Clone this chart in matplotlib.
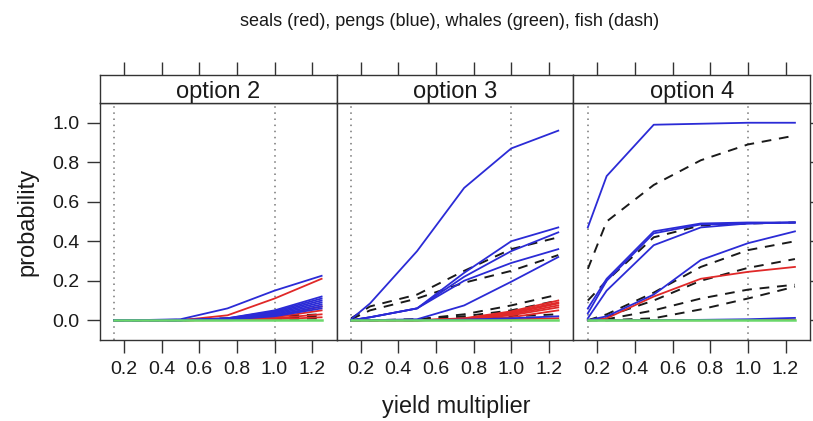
import matplotlib
matplotlib.use("Agg")
import matplotlib.pyplot as plt

plt.rcParams.update({
    "font.family": ["Liberation Sans", "DejaVu Sans"],
})

# ---- data ----
x = [0.15, 0.25, 0.5, 0.75, 1.0, 1.25]
panels = ["option 2", "option 3", "option 4"]
ref_lines = [0.15, 1.0]

opt2_fish = [
    [0, 0, 0.002, 0.01, 0.02, 0.03],
    [0, 0, 0, 0.005, 0.01, 0.02],
    [0, 0, 0, 0.002, 0.005, 0.01],
]
opt2_seals = [
    [0, 0, 0, 0.025, 0.11, 0.21],
    [0, 0, 0, 0.003, 0.02, 0.07],
    [0, 0, 0, 0.002, 0.015, 0.05],
    [0, 0, 0, 0.001, 0.01, 0.03],
    [0, 0, 0, 0, 0.005, 0.015],
]
opt2_pengs = [
    [0, 0, 0.005, 0.06, 0.15, 0.225],
    [0, 0, 0, 0.01, 0.05, 0.12],
    [0, 0, 0, 0.01, 0.045, 0.11],
    [0, 0, 0, 0.008, 0.04, 0.10],
    [0, 0, 0, 0.006, 0.035, 0.09],
    [0, 0, 0, 0.005, 0.03, 0.08],
    [0, 0, 0, 0.004, 0.025, 0.07],
    [0, 0, 0, 0.003, 0.02, 0.06],
]
opt2_whales = [[0, 0, 0, 0, 0, 0]]

opt3_fish = [
    [0.01, 0.07, 0.13, 0.25, 0.36, 0.42],
    [0.005, 0.05, 0.11, 0.19, 0.25, 0.33],
    [0, 0, 0.005, 0.03, 0.075, 0.13],
    [0, 0, 0.003, 0.02, 0.05, 0.10],
    [0, 0, 0, 0.01, 0.02, 0.03],
]
opt3_seals = [
    [0, 0, 0, 0.01, 0.045, 0.10],
    [0, 0, 0, 0.008, 0.04, 0.09],
    [0, 0, 0, 0.006, 0.035, 0.085],
    [0, 0, 0, 0.005, 0.03, 0.075],
    [0, 0, 0, 0.004, 0.025, 0.065],
    [0, 0, 0, 0.002, 0.015, 0.05],
    [0, 0, 0, 0, 0.005, 0.01],
]
opt3_pengs = [
    [0.005, 0.085, 0.35, 0.67, 0.87, 0.96],
    [0, 0.015, 0.06, 0.24, 0.40, 0.47],
    [0, 0.015, 0.06, 0.22, 0.35, 0.445],
    [0, 0.015, 0.06, 0.20, 0.29, 0.36],
    [0, 0, 0.005, 0.075, 0.195, 0.32],
    [0, 0, 0, 0.003, 0.01, 0.02],
]
opt3_whales = [[0, 0, 0, 0, 0, 0]]

opt4_fish = [
    [0.26, 0.50, 0.685, 0.81, 0.89, 0.935],
    [0.10, 0.20, 0.42, 0.48, 0.49, 0.495],
    [0, 0.03, 0.14, 0.27, 0.355, 0.40],
    [0, 0.02, 0.10, 0.20, 0.265, 0.31],
    [0, 0.005, 0.05, 0.11, 0.155, 0.18],
    [0, 0, 0.01, 0.055, 0.11, 0.17],
]
opt4_seals = [
    [0, 0.01, 0.12, 0.21, 0.245, 0.27],
    [0, 0, 0, 0, 0.001, 0.003],
]
opt4_pengs = [
    [0.47, 0.73, 0.99, 0.995, 1.0, 1.0],
    [0.06, 0.21, 0.45, 0.49, 0.495, 0.495],
    [0.035, 0.20, 0.44, 0.485, 0.49, 0.495],
    [0.01, 0.15, 0.38, 0.47, 0.49, 0.495],
    [0, 0.02, 0.13, 0.305, 0.39, 0.45],
    [0, 0, 0, 0.002, 0.005, 0.012],
]
opt4_whales = [[0, 0, 0, 0, 0, 0]]

fish_by_panel = [opt2_fish, opt3_fish, opt4_fish]
seals_by_panel = [opt2_seals, opt3_seals, opt4_seals]
pengs_by_panel = [opt2_pengs, opt3_pengs, opt4_pengs]
whales_by_panel = [opt2_whales, opt3_whales, opt4_whales]

xticks = [0.2, 0.4, 0.6, 0.8, 1.0, 1.2]
yticks = [0.0, 0.2, 0.4, 0.6, 0.8, 1.0]

BLUE = "#2b2bd6"
RED = "#e02828"
GREEN = "#6ad86a"
DASH = "#1a1a1a"
FRAME = "#333333"
TXT = "#1a1a1a"

W, H = 813, 421
fig = plt.figure(figsize=(W / 100, H / 100), dpi=100)

left_px, right_px = 100, 810
top_px, bot_px, strip_top_px = 103, 340, 75
pw = (right_px - left_px) / 3

for i, name in enumerate(panels):
    x0 = (left_px + i * pw) / W
    ax = fig.add_axes([x0, 1 - bot_px / H, pw / W, (bot_px - top_px) / H])
    st = fig.add_axes([x0, 1 - top_px / H, pw / W, (top_px - strip_top_px) / H],
                      sharex=ax)

    for v in ref_lines:
        ax.axvline(v, color="#777777", lw=1.1, ls=(0, (1, 3)), zorder=1)
    for y in fish_by_panel[i]:
        ax.plot(x, y, color=DASH, lw=1.4, ls=(0, (5, 4)), zorder=2)
    for y in seals_by_panel[i]:
        ax.plot(x, y, color=RED, lw=1.3, zorder=3)
    for y in pengs_by_panel[i]:
        ax.plot(x, y, color=BLUE, lw=1.3, zorder=4)
    for y in whales_by_panel[i]:
        ax.plot(x, y, color=GREEN, lw=1.8, zorder=5)

    ax.set_xlim(0.073, 1.33)
    ax.set_ylim(-0.1, 1.1)
    ax.set_xticks(xticks)
    ax.set_xticklabels([f"{t:.1f}" for t in xticks])
    ax.set_yticks(yticks)
    ax.set_yticklabels([f"{t:.1f}" for t in yticks])
    ax.tick_params(axis="x", direction="out", length=9.5, width=1.0,
                   color=FRAME, labelsize=14, labelcolor=TXT, pad=5.5)
    ax.tick_params(axis="y", direction="out", length=9.5, width=1.0,
                   color=FRAME, labelsize=14, labelcolor=TXT, pad=5,
                   left=(i == 0), labelleft=(i == 0),
                   right=(i == 2), labelright=False)
    for s in ax.spines.values():
        s.set_color(FRAME)
        s.set_linewidth(1.0)

    # strip
    st.set_ylim(0, 1)
    st.set_yticks([])
    st.tick_params(axis="x", bottom=False, labelbottom=False, top=True,
                   labeltop=False, direction="out", length=9.5, width=1.0,
                   color=FRAME)
    for s in st.spines.values():
        s.set_color(FRAME)
        s.set_linewidth(1.0)
    st.text(0.5, 0.4, name, transform=st.transAxes, ha="center",
            va="center", fontsize=17, color=TXT)

fig.text(450 / W, 1 - 21 / H, "seals (red), pengs (blue), whales (green), fish (dash)",
         ha="center", va="center", fontsize=13, color=TXT)
fig.text(456 / W, 1 - 406 / H, "yield multiplier", ha="center", va="center",
         fontsize=16.8, color=TXT)
fig.text(27 / W, 1 - 222 / H, "probability", ha="center", va="center",
         rotation=90, fontsize=17, color=TXT)

fig.savefig("out.png", dpi=100, facecolor="white")
